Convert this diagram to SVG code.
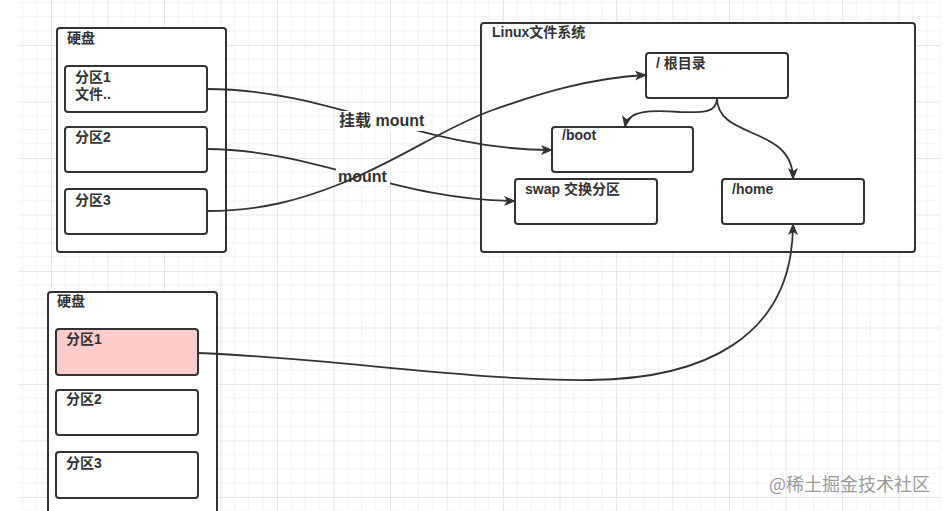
<svg xmlns="http://www.w3.org/2000/svg" width="946" height="511" viewBox="0 0 946 511">
<defs>
<pattern id="grid" patternUnits="userSpaceOnUse" x="-5.5" y="-11.5" width="56.5" height="56.5">
<path d="M14.125,0V56.5M28.25,0V56.5M42.375,0V56.5M0,14.125H56.5M0,28.25H56.5M0,42.375H56.5" stroke="#f2f2f2" stroke-width="1" fill="none"/>
<path d="M0.5,0V56.5M0,0.5H56.5" stroke="#e6e6e6" stroke-width="1" fill="none"/>
</pattern>
<marker id="arr" viewBox="0 0 12 10" refX="11" refY="5" markerWidth="12" markerHeight="10" markerUnits="userSpaceOnUse" orient="auto">
<path d="M0,0 L12,5 L0,10 L3,5 Z" fill="#333"/>
</marker>
</defs>
<style>
.box{fill:#fff;stroke:#333;stroke-width:2}
.t{font-family:"Liberation Sans","Noto Sans CJK SC",sans-serif;font-size:14px;font-weight:bold;fill:#333}
.el{font-family:"Liberation Sans","Noto Sans CJK SC",sans-serif;font-size:16px;font-weight:bold;fill:#333}
.e{fill:none;stroke:#333;stroke-width:1.8}
.lbg{fill:#fff}
</style>
<rect x="0" y="0" width="946" height="511" fill="#fff"/>
<rect x="18" y="0" width="923" height="511" fill="url(#grid)"/>

<g id="disk1">
<rect class="box" x="57" y="28" width="169" height="224" rx="3"/>
<text class="t" x="67" y="43">硬盘</text>
</g>
<g id="d1p1">
<rect class="box" x="65" y="66" width="142" height="46" rx="3"/>
<text class="t" x="75" y="82">分区1</text>
<text class="t" x="75" y="99">文件..</text>
</g>
<g id="d1p2">
<rect class="box" x="65" y="127" width="142" height="45" rx="3"/>
<text class="t" x="75" y="142">分区2</text>
</g>
<g id="d1p3">
<rect class="box" x="65" y="189" width="142" height="45" rx="3"/>
<text class="t" x="75" y="205">分区3</text>
</g>

<g id="linuxfs">
<rect class="box" x="481" y="23" width="434" height="229" rx="3"/>
<text class="t" x="492" y="37">Linux文件系统</text>
</g>
<g id="root">
<rect class="box" x="646" y="53" width="142" height="45" rx="3"/>
<text class="t" x="656" y="68">/ 根目录</text>
</g>
<g id="boot">
<rect class="box" x="552" y="127" width="141" height="45" rx="3"/>
<text class="t" x="562" y="140">/boot</text>
</g>
<g id="swap">
<rect class="box" x="515" y="179" width="142" height="45" rx="3"/>
<text class="t" x="525" y="194">swap 交换分区</text>
</g>
<g id="home">
<rect class="box" x="722" y="179" width="142" height="45" rx="3"/>
<text class="t" x="732" y="194">/home</text>
</g>

<g id="disk2">
<rect class="box" x="48" y="292" width="169" height="230" rx="3"/>
<text class="t" x="57" y="306">硬盘</text>
</g>
<g id="d2p1">
<rect class="box" x="56" y="329" width="142" height="46" rx="3" style="fill:#ffcccc"/>
<text class="t" x="66" y="344">分区1</text>
</g>
<g id="d2p2">
<rect class="box" x="56" y="390" width="142" height="45" rx="3"/>
<text class="t" x="66" y="404">分区2</text>
</g>
<g id="d2p3">
<rect class="box" x="56" y="452" width="142" height="46" rx="3"/>
<text class="t" x="66" y="468">分区3</text>
</g>

<g id="connectors">
<path class="e" d="M207,89 C330,89 420,150 552,150" marker-end="url(#arr)"/>
<rect class="lbg" x="336" y="111" width="90" height="20"/>
<text class="el" x="339" y="126">挂载 mount</text>
<path class="e" d="M207,149 C310,149 400,201 515,201" marker-end="url(#arr)"/>
<rect class="lbg" x="336" y="168" width="54" height="18"/>
<text class="el" x="338" y="182">mount</text>
<path class="e" d="M207,211 C260,211 300,200 340,184 C400,160 440,130 490,111 C540,93 590,78 646,75" marker-end="url(#arr)"/>
<path class="e" d="M717,98 C717,112 705,113 680,112 C650,110 628,110 625,127" marker-end="url(#arr)"/>
<path class="e" d="M717,98 C717,140 793,125 793,179" marker-end="url(#arr)"/>
<path class="e" d="M198,353 C330,358 470,381 590,380 C700,379 793,340 793,224" marker-end="url(#arr)"/>
</g>

<text x="769" y="491" style="font-family:'Noto Sans CJK SC',sans-serif;font-size:18px;fill:#9a9a9a">@稀土掘金技术社区</text>
</svg>
